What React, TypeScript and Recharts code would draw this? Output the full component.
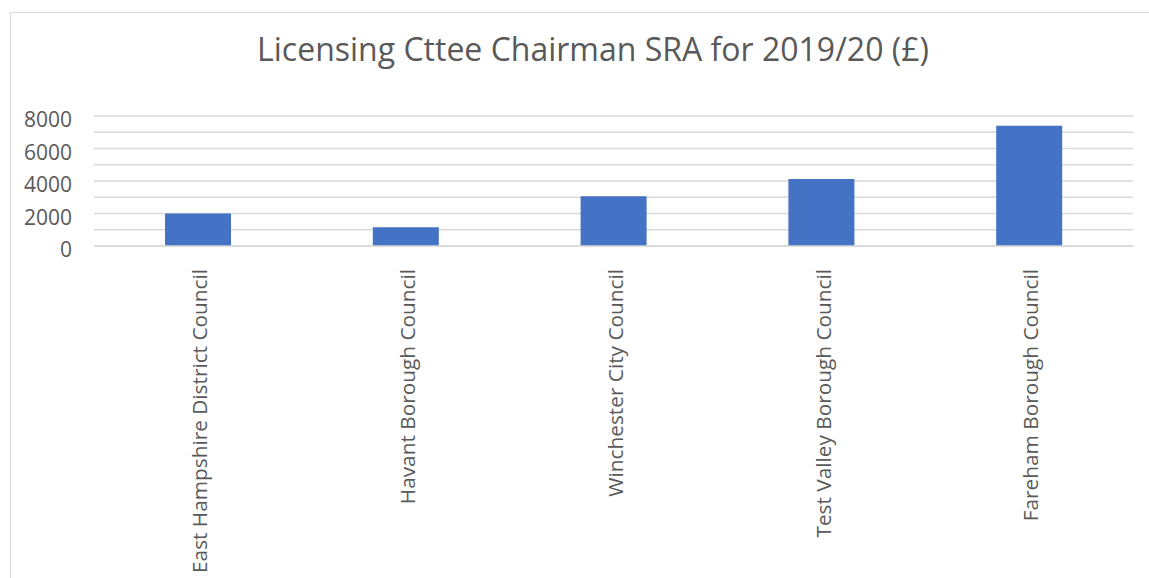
import React from 'react';
import { BarChart, Bar, XAxis, YAxis, CartesianGrid } from 'recharts';

const councils = [
  'East Hampshire District Council',
  'Havant Borough Council',
  'Winchester City Council',
  'Test Valley Borough Council',
  'Fareham Borough Council',
];
const sraValues = [2000, 1150, 3060, 4120, 7400];
const yTicks = [0, 1000, 2000, 3000, 4000, 5000, 6000, 7000, 8000];

const data = councils.map((name, i) => ({ name, value: sraValues[i] }));

const FONT = '"Open Sans", "Liberation Sans", sans-serif';
const TEXT = '#595959';

function YTick(props: any) {
  const { x, y, payload } = props;
  if (payload.value % 2000 !== 0) return null;
  return (
    <text x={x} y={y + 4} dy="0.35em" textAnchor="end" fill={TEXT} fontSize={21} fontFamily={FONT}>
      {payload.value}
    </text>
  );
}

function XTick(props: any) {
  const { x, y, payload } = props;
  return (
    <g transform={`translate(${x + 2},${y})`}>
      <text x={-15} y={0} dy="0.35em" textAnchor="end" transform="rotate(-90)" fill={TEXT} fontSize={20.8} fontFamily={FONT}>
        {payload.value}
      </text>
    </g>
  );
}

export default function App() {
  return (
    <div style={{ position: 'absolute', left: 0, top: 0, width: 1149, height: 578, overflow: 'hidden', background: '#fff' }}>
      <div style={{ position: 'absolute', left: 10, top: 12, width: 1200, height: 700, border: '1px solid #d9d9d9', boxSizing: 'border-box' }}>
        <div
          style={{
            position: 'absolute',
            left: 0,
            top: 14,
            width: 1164,
            textAlign: 'center',
            fontFamily: FONT,
            fontSize: 32,
            color: TEXT,
            whiteSpace: 'nowrap',
          }}
        >
          Licensing Cttee Chairman SRA for 2019/20 (£)
        </div>
        <BarChart
          width={1138}
          height={565}
          data={data}
          margin={{ top: 103, right: 16, left: 23, bottom: 2 }}
          barCategoryGap="34%"
        >
          <CartesianGrid horizontal vertical={false} stroke="#d9d9d9" strokeWidth={1.3} />
          <YAxis
            width={60}
            domain={[0, 8000]}
            ticks={yTicks}
            interval={0}
            axisLine={false}
            tickLine={false}
            tickSize={0}
            tickMargin={22}
            tick={<YTick />}
          />
          <XAxis
            dataKey="name"
            height={330}
            interval={0}
            axisLine={{ stroke: '#d9d9d9', strokeWidth: 1.3 }}
            tickLine={false}
            tick={<XTick />}
          />
          <Bar dataKey="value" fill="#4472C4" barSize={66} isAnimationActive={false} />
        </BarChart>
      </div>
    </div>
  );
}
